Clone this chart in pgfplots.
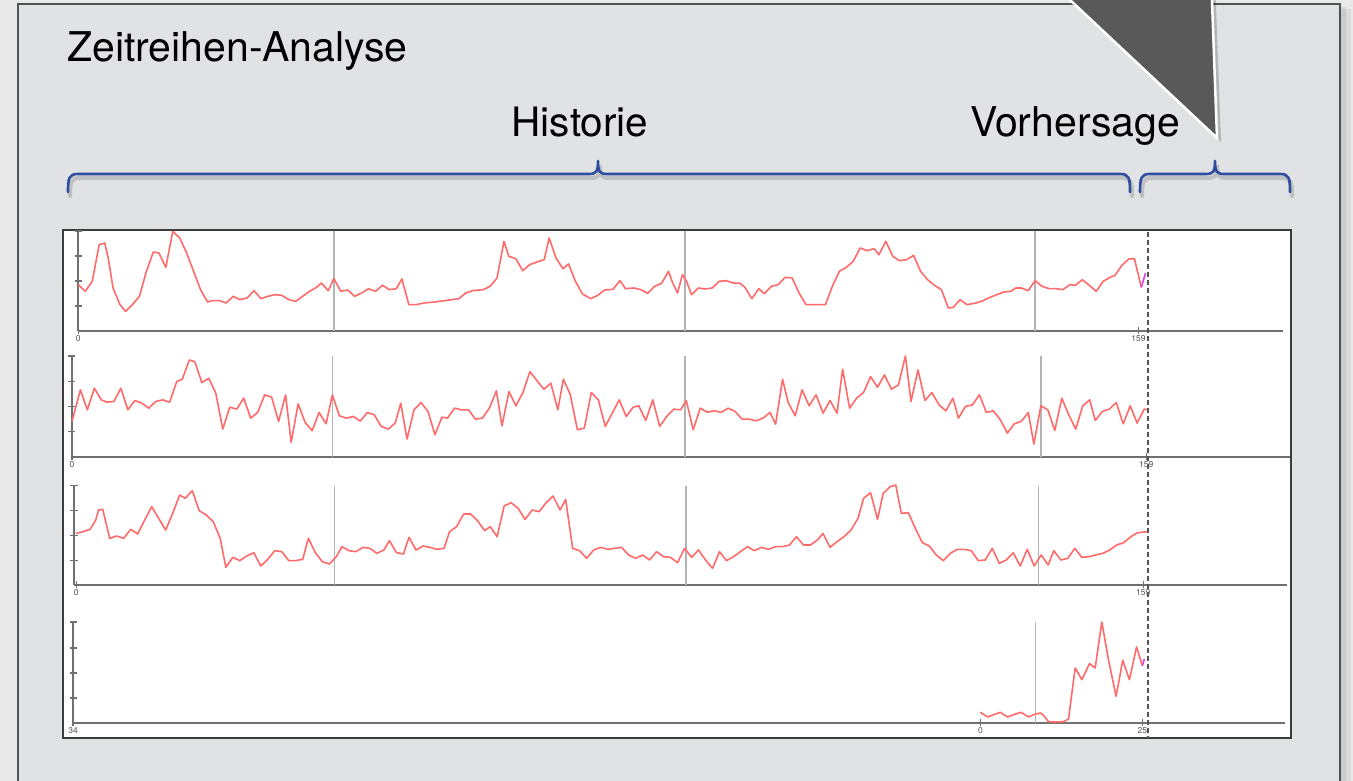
\documentclass[border=0pt]{standalone}
\usepackage{pgfplots}
\pgfplotsset{compat=1.18}
\usepackage{fontspec}
\setmainfont{TeX Gyre Heros}
\definecolor{outbg}{HTML}{E9E9EA}
\definecolor{panelbg}{HTML}{E1E2E4}
\definecolor{panelborder}{HTML}{4E5251}
\definecolor{innerborder}{HTML}{3A3D3D}
\definecolor{axisgray}{HTML}{707070}
\definecolor{gridgray}{HTML}{B4B4B4}
\definecolor{labelgray}{HTML}{555555}
\definecolor{linered}{HTML}{FF6A6A}
\definecolor{fcmag}{HTML}{E040E8}
\definecolor{bracecol}{HTML}{2D4E9E}
\definecolor{tri}{HTML}{595959}
\definecolor{dashcol}{HTML}{555555}
\tikzset{
  ser/.style={draw=linered, line width=1.6pt, mark=none, line join=round},
  grd/.style={draw=gridgray, line width=1.4pt},
}
\pgfplotsset{
  panel/.style={
    scale only axis, anchor=south west, clip=false,
    axis x line=bottom, axis y line=left,
    axis line style={draw=axisgray, line width=1.6pt, -},
    every inner x axis line/.append style={-},
    every outer x axis line/.append style={-},
    every inner y axis line/.append style={-},
    every outer y axis line/.append style={-},
    tick align=center, major tick length=7pt,
    every tick/.style={draw=axisgray, line width=1.2pt},
    ymin=0, yticklabels={},
    /pgf/number format/assume math mode=true,
    xticklabel style={font=\fontsize{8.5}{9}\selectfont, text=labelgray, inner sep=1pt},
  },
}
\begin{document}
\begin{tikzpicture}[x=1pt,y=1pt]
\useasboundingbox (0,0) rectangle (1353,781);
\clip (0,0) rectangle (1353,781);
\fill[outbg] (0,0) rectangle (1353,781);
% outer panel with shadow
\fill[black,opacity=0.06] (1341,-10) rectangle (1351,772);
\fill[black,opacity=0.07] (1341,-10) rectangle (1346,774);
\fill[panelbg] (18,-10) rectangle (1340,777);
\draw[panelborder, line width=2] (18,-10) -- (18,777) -- (1340,777) -- (1340,-10);
% titles
\node[anchor=base west, inner sep=0, font=\fontsize{41}{48}\selectfont] at (67,719) {Zeitreihen-Analyse};
\node[anchor=base, inner sep=0, font=\fontsize{40.5}{48}\selectfont] at (580,644) {Historie};
\node[anchor=base, inner sep=0, font=\fontsize{41}{48}\selectfont] at (1075,644) {Vorhersage};
% brace shadows
\begin{scope}[shift={(2,-4)}]
\draw[black, opacity=0.15, line width=4, line cap=round] (68,589) .. controls (68,603) and (69,607) .. (78,607) -- (589,607) .. controls (596,607) and (598,609) .. (598,620) .. controls (598,609) and (600,607) .. (607,607) -- (1120,607) .. controls (1129,607) and (1130,603) .. (1130,589);
\draw[black, opacity=0.15, line width=4, line cap=round] (1140,589) .. controls (1140,603) and (1141,607) .. (1150,607) -- (1206,607) .. controls (1213,607) and (1215,609) .. (1215,620) .. controls (1215,609) and (1217,607) .. (1224,607) -- (1280,607) .. controls (1289,607) and (1290,603) .. (1290,589);
\end{scope}
% braces
\draw[bracecol, line width=2.6, line cap=round, line join=round] (68,589) .. controls (68,603) and (69,607) .. (78,607) -- (589,607) .. controls (596,607) and (598,609) .. (598,620) .. controls (598,609) and (600,607) .. (607,607) -- (1120,607) .. controls (1129,607) and (1130,603) .. (1130,589);
\draw[bracecol, line width=2.6, line cap=round, line join=round] (1140,589) .. controls (1140,603) and (1141,607) .. (1150,607) -- (1206,607) .. controls (1213,607) and (1215,609) .. (1215,620) .. controls (1215,609) and (1217,607) .. (1224,607) -- (1280,607) .. controls (1289,607) and (1290,603) .. (1290,589);
% triangle pointer
\fill[black, opacity=0.2] (1063.4,787) -- (1215.6,787) -- (1221,639) -- cycle;
\filldraw[fill=tri, draw=white, line width=2.5, line join=miter] (1059.4,791) -- (1211.6,791) -- (1217,643) -- cycle;
% inner white box
\fill[white] (63,43) rectangle (1291,551);
\draw[innerborder, line width=1.6] (63,43) rectangle (1291,551);

% ---------- series 1 ----------
\begin{axis}[panel, at={(78pt,450pt)}, width=1205pt, height=100pt,
  xmin=11.5, xmax=1747, ymax=300, ytick={75,150,225,300},
  xtick={12,1539}, xticklabels={0,159}]
\draw[grd] (axis cs:380,0) -- (axis cs:380,300);
\draw[grd] (axis cs:886,0) -- (axis cs:886,300);
\draw[grd] (axis cs:1390,0) -- (axis cs:1390,300);
\addplot[ser] coordinates {
(12,139)(22,119)(32,149)(42,259)(50,264)(55,219)(62,129)(72,79)(80,59)(90,79)
(100,104)(110,179)(120,237)(128,234)(138,191)(148,299)(158,279)(168,234)(178,179)(188,124)
(198,87)(205,91)(215,91)(225,84)(235,104)(245,94)(255,99)(265,121)(275,97)(285,104)
(295,109)(305,107)(315,94)(325,89)(335,104)(345,119)(355,131)(362,144)(372,121)(380,157)
(390,119)(400,123)(410,104)(420,114)(430,127)(440,119)(450,137)(460,124)(470,127)(478,156)
(488,79)(498,79)(510,84)(525,87)(540,91)(560,97)(570,114)(580,121)(595,124)(605,134)
(615,159)(625,269)(632,224)(642,217)(652,181)(662,199)(675,209)(683,214)(690,279)(700,219)
(710,187)(718,201)(728,149)(738,111)(750,97)(760,107)(770,123)(782,125)(792,151)(800,127)
(812,129)(822,124)(832,113)(842,134)(852,143)(862,179)(868,144)(875,114)(882,169)(888,149)
(895,109)(905,129)(915,126)(925,129)(935,149)(945,151)(955,144)(965,143)(972,131)(982,97)
(992,127)(1000,112)(1010,134)(1020,139)(1030,161)(1040,159)(1050,114)(1060,79)(1075,79)(1088,79)
(1098,134)(1108,179)(1118,191)(1128,209)(1138,249)(1148,241)(1158,247)(1165,229)(1175,269)(1185,224)
(1195,211)(1205,214)(1215,227)(1225,179)(1235,154)(1245,137)(1255,124)(1265,69)(1272,71)(1282,94)
(1292,79)(1305,84)(1315,91)(1325,101)(1335,109)(1345,117)(1355,119)(1362,129)(1370,129)(1380,121)
(1390,151)(1400,134)(1410,127)(1420,127)(1430,124)(1440,139)(1448,137)(1458,154)(1468,137)(1478,119)
(1488,149)(1498,161)(1505,167)(1515,197)(1525,216)(1533,217)(1543,131)};
\addplot[draw=fcmag, line width=1.6pt, mark=none] coordinates {(1543,131)(1549,174)};
\end{axis}

% ---------- series 2 ----------
\begin{axis}[panel, at={(72pt,324pt)}, width=1218pt, height=101pt,
  xmin=10, xmax=1755, ymax=304, ytick={76,152,228,304},
  xtick={10,1549}, xticklabels={0,159}]
\draw[grd] (axis cs:383,0) -- (axis cs:383,304);
\draw[grd] (axis cs:888,0) -- (axis cs:888,304);
\draw[grd] (axis cs:1398,0) -- (axis cs:1398,304);
\addplot[ser] coordinates {
(10,107)(22,202)(32,142)(42,207)(52,172)(60,165)(70,167)(80,207)(90,142)(100,170)
(110,162)(120,147)(130,167)(140,172)(150,165)(160,227)(168,234)(178,292)(186,287)(196,224)
(206,237)(216,192)(226,84)(236,150)(246,144)(256,177)(266,117)(276,134)(286,187)(296,180)
(306,107)(316,187)(324,44)(334,160)(344,104)(354,79)(364,134)(374,100)(383,187)(393,124)
(403,117)(413,122)(423,108)(433,134)(443,127)(453,92)(463,84)(473,102)(481,162)(490,54)
(500,142)(510,164)(520,137)(530,67)(540,120)(548,117)(558,147)(568,142)(578,142)(588,114)
(598,117)(608,147)(618,199)(626,94)(636,197)(646,154)(656,194)(666,257)(676,230)(686,204)
(696,222)(706,142)(714,234)(724,187)(734,82)(744,87)(754,194)(764,172)(774,92)(784,132)
(794,172)(804,122)(814,150)(822,154)(832,110)(842,172)(852,92)(862,122)(872,144)(882,142)
(890,170)(900,82)(910,147)(920,135)(930,139)(940,134)(950,147)(960,137)(970,114)(980,114)
(990,109)(1000,117)(1010,134)(1018,99)(1028,234)(1036,164)(1046,124)(1056,202)(1066,154)(1076,187)
(1086,132)(1096,170)(1106,132)(1114,264)(1124,147)(1134,177)(1144,194)(1154,242)(1164,210)(1174,247)
(1184,204)(1194,217)(1204,304)(1212,167)(1222,262)(1232,170)(1242,194)(1252,157)(1262,139)(1272,177)
(1280,117)(1290,152)(1300,157)(1310,187)(1320,134)(1330,139)(1340,112)(1350,72)(1360,100)(1370,107)
(1380,134)(1388,39)(1398,154)(1408,142)(1418,80)(1428,177)(1438,127)(1448,84)(1458,154)(1468,172)
(1476,110)(1486,137)(1496,144)(1506,164)(1516,100)(1526,154)(1536,102)(1546,144)(1552,142)};
\end{axis}

% ---------- series 3 ----------
\begin{axis}[panel, at={(74pt,196pt)}, width=1213pt, height=99.3pt,
  xmin=12.9, xmax=1747.5, ymax=298, ytick={74.5,149,223.5,298},
  xtick={16,1542}, xticklabels={0,159}]
\draw[grd] (axis cs:385,0) -- (axis cs:385,298);
\draw[grd] (axis cs:888,0) -- (axis cs:888,298);
\draw[grd] (axis cs:1392,0) -- (axis cs:1392,298);
\addplot[ser] coordinates {
(16,155)(26,160)(36,167)(44,195)(48,225)(54,227)(64,140)(74,147)(84,140)(94,167)
(104,153)(114,195)(124,235)(134,200)(144,165)(154,215)(164,270)(172,260)(182,283)(192,223)
(202,210)(212,190)(222,140)(230,53)(240,83)(250,73)(260,87)(270,97)(280,57)(290,77)
(300,103)(310,100)(320,73)(330,73)(340,77)(348,140)(358,97)(368,70)(378,63)(388,85)
(396,115)(406,103)(416,100)(426,113)(436,110)(446,95)(456,105)(464,133)(474,97)(484,93)
(492,143)(502,105)(512,117)(522,113)(532,107)(542,110)(550,160)(560,175)(570,213)(580,213)
(590,193)(600,163)(608,175)(618,145)(628,237)(638,247)(648,230)(658,197)(668,225)(678,220)
(688,247)(698,267)(708,225)(716,257)(726,110)(736,103)(746,80)(756,105)(766,113)(776,107)
(786,110)(796,113)(806,90)(816,80)(826,90)(836,75)(846,100)(856,85)(866,83)(876,67)
(886,110)(896,83)(906,105)(916,75)(926,50)(936,100)(946,73)(956,85)(966,100)(976,115)
(986,103)(996,113)(1006,107)(1016,115)(1026,115)(1036,120)(1046,145)(1056,120)(1066,120)(1076,135)
(1084,155)(1094,113)(1104,130)(1114,145)(1124,165)(1134,200)(1142,260)(1152,277)(1162,197)(1170,275)
(1180,295)(1188,300)(1196,215)(1206,217)(1216,170)(1226,127)(1236,117)(1246,90)(1256,73)(1266,95)
(1276,107)(1286,107)(1296,103)(1306,73)(1316,75)(1326,110)(1336,65)(1346,75)(1356,97)(1366,57)
(1376,107)(1386,57)(1396,90)(1406,60)(1414,103)(1424,75)(1434,80)(1444,110)(1454,83)(1464,85)
(1474,90)(1484,95)(1494,105)(1504,120)(1514,127)(1524,145)(1534,157)(1548,160)};
\end{axis}

% ---------- series 4 ----------
\begin{axis}[panel, at={(73pt,58pt)}, width=1212pt, height=101pt,
  xmin=-140, xmax=47, ymax=101, ytick={25,50,75,101},
  xtick={-140,0,25}, xticklabels={34,0,25}]
\draw[grd] (axis cs:8.5,0) -- (axis cs:8.5,101);
\addplot[ser] coordinates {
(0,10.7)(1.13,6)(2.05,8.3)(3.08,10.7)(4.21,6)(5.13,8.3)(6.26,10.7)(7.44,6)(8.21,8.3)(9.24,10)
(9.65,8.3)(10.52,1.3)(11.55,1)(12.83,1.3)(13.6,4)(14.63,55)(15.66,43.3)(16.84,59.3)(17.71,55)(18.74,101)
(19.76,63.3)(20.94,26.7)(21.97,62.7)(23.0,43.3)(24.1,76)(25,57.3)};
\addplot[draw=fcmag, line width=1.6pt, mark=none] coordinates {(25,57.3)(25.3,64)};
\end{axis}

% forecast boundary
\draw[dashcol, line width=1.4, dash pattern=on 5pt off 3pt] (1148,549) -- (1148,43);
\end{tikzpicture}
\end{document}
